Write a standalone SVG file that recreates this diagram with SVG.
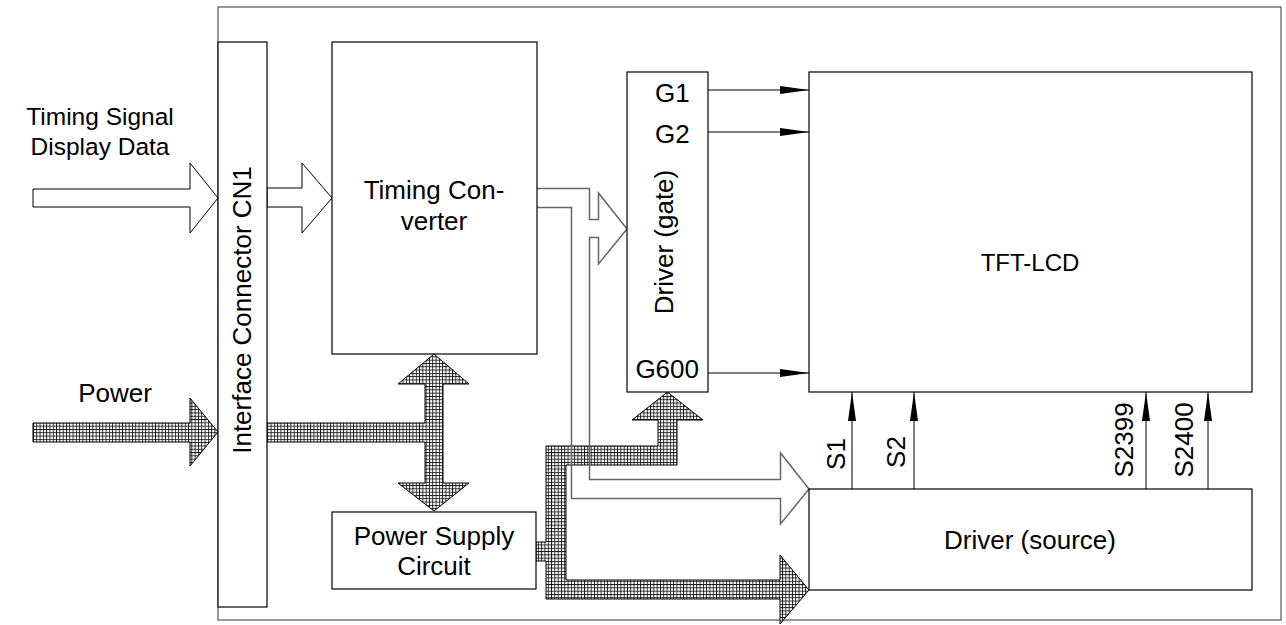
<svg xmlns="http://www.w3.org/2000/svg" width="1286" height="625" viewBox="0 0 1286 625">
<style>
.box{fill:#fff;stroke:#000;stroke-width:1.2}
.border{fill:none;stroke:#555;stroke-width:1.2}
.t{font-family:"Liberation Sans",Arial,sans-serif;font-size:26px;fill:#000}
.s{font-size:24.5px}
.open{fill:#fff;stroke:#000;stroke-width:1}
.hat{fill:url(#hatch);stroke:#000;stroke-width:1}
.gl{fill:none;stroke:#666;stroke-width:1.5}
.sig{stroke:#000;stroke-width:1;fill:none}
</style>
<defs>
<pattern id="hatch" width="3.3" height="3.3" patternUnits="userSpaceOnUse">
<rect width="3.3" height="3.3" fill="#fff"/>
<path d="M0 0.5H3.3M0.5 0V3.3" stroke="#000" stroke-width="0.8"/>
</pattern>
<marker id="ah" markerWidth="29" markerHeight="9" refX="29" refY="4.5" orient="auto" markerUnits="userSpaceOnUse">
<path d="M0 0.5L29 4.5L0 8.5Z" fill="#000"/>
</marker>
</defs>
<rect class="border" x="218" y="7" width="1063" height="613"/>
<g id="connectors">
<polygon class="open" points="33,189 190,189 190,163 218,198 190,233 190,207 33,207"/>
<polygon class="open" points="267,188 302,188 302,163 332,198 302,233 302,207 267,207"/>
<polygon class="hat" points="33,423 190,423 190,398 218,432 190,466 190,442 33,442"/>
<polygon class="hat" points="267,423 425,423 425,384 398,384 434,354 469,384 443,384 443,483 469,483 434,511 398,483 425,483 425,442 267,442"/>
<polygon class="hat" points="536,542 546,542 546,446 658,446 658,420 632,420 667.5,392 703,420 677,420 677,465 566,465 566,580 780,580 780,555 809,590 780,624 780,599 546,599 546,561 536,561"/>
<path class="gl" d="M537 188.5H589.5V219.5H598.5V193L627 229L598.5 264V237.5H589.5V479.5H780.5V453L809 489L780.5 524V498.5H571.5V207.5H537"/>
<line class="sig" x1="708" y1="90" x2="809" y2="90" marker-end="url(#ah)"/>
<line class="sig" x1="708" y1="132" x2="809" y2="132" marker-end="url(#ah)"/>
<line class="sig" x1="708" y1="373" x2="809" y2="373" marker-end="url(#ah)"/>
<line class="sig" x1="852" y1="489" x2="852" y2="392" marker-end="url(#ah)"/>
<line class="sig" x1="914" y1="489" x2="914" y2="392" marker-end="url(#ah)"/>
<line class="sig" x1="1146" y1="489" x2="1146" y2="392" marker-end="url(#ah)"/>
<line class="sig" x1="1208" y1="489" x2="1208" y2="392" marker-end="url(#ah)"/>
</g>
<g id="inputs">
<text class="t s" x="100" y="125" text-anchor="middle">Timing Signal</text>
<text class="t s" x="100" y="155" text-anchor="middle">Display Data</text>
<text class="t" x="115" y="402" text-anchor="middle">Power</text>
</g>
<g id="cn1">
<rect class="box" x="218" y="42" width="49" height="565"/>
<text class="t" transform="translate(251,310) rotate(-90)" text-anchor="middle">Interface Connector CN1</text>
</g>
<g id="timing-converter">
<rect class="box" x="332" y="42" width="205" height="312"/>
<text class="t" x="434" y="199" text-anchor="middle">Timing Con-</text>
<text class="t" x="434" y="230" text-anchor="middle">verter</text>
</g>
<g id="power-supply">
<rect class="box" x="332" y="512" width="204" height="77"/>
<text class="t" x="434" y="545" text-anchor="middle">Power Supply</text>
<text class="t" x="434" y="575" text-anchor="middle">Circuit</text>
</g>
<g id="driver-gate">
<rect class="box" x="627" y="72" width="81" height="320"/>
<text class="t" x="655" y="102">G1</text>
<text class="t" x="655" y="143">G2</text>
<text class="t" x="699" y="378" text-anchor="end">G600</text>
<text class="t" transform="translate(673,242) rotate(-90)" text-anchor="middle">Driver (gate)</text>
</g>
<g id="tft-lcd">
<rect class="box" x="809" y="72" width="443" height="320"/>
<text class="t" x="1030" y="271" text-anchor="middle" style="font-size:24px">TFT-LCD</text>
</g>
<g id="driver-source">
<rect class="box" x="809" y="489" width="443" height="101"/>
<text class="t" x="1030" y="549" text-anchor="middle">Driver (source)</text>
</g>
<g id="source-labels">
<text class="t" transform="translate(845,454) rotate(-90)" text-anchor="middle">S1</text>
<text class="t" transform="translate(905,452) rotate(-90)" text-anchor="middle">S2</text>
<text class="t" transform="translate(1133,440) rotate(-90)" text-anchor="middle">S2399</text>
<text class="t" transform="translate(1193,440) rotate(-90)" text-anchor="middle">S2400</text>
</g>
</svg>
